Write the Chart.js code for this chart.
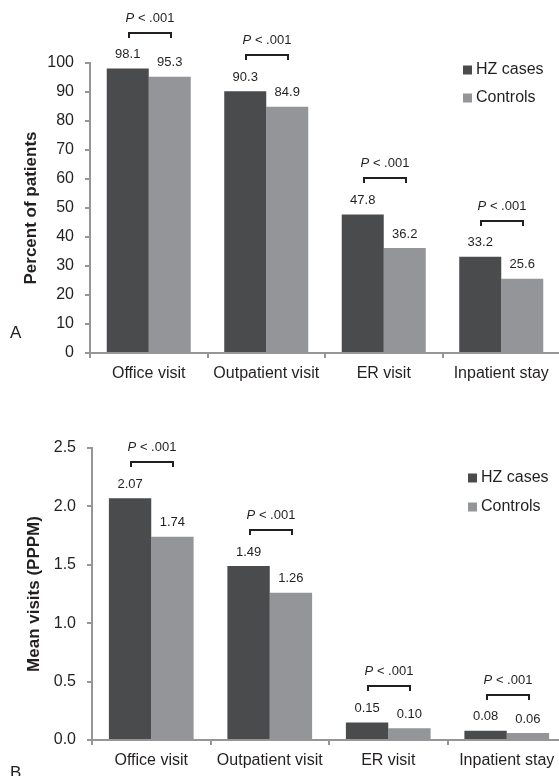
<!DOCTYPE html>
<html>
<head>
<meta charset="utf-8">
<script src="https://cdn.jsdelivr.net/npm/chart.js@4.4.1/dist/chart.umd.min.js"></script>
<style>
  html, body { margin: 0; padding: 0; background: #fff; overflow: hidden; width: 559px; height: 776px; }
  .panel { position: absolute; left: 0; width: 580px; }
  #wrapA { top: 0; height: 395px; }
  #wrapB { top: 395px; height: 381px; }
</style>
</head>
<body>
<div class="panel" id="wrapA"><canvas id="chartA"></canvas></div>
<div class="panel" id="wrapB"><canvas id="chartB"></canvas></div>
<script>
// data
const categories = ["Office visit", "Outpatient visit", "ER visit", "Inpatient stay"];
const seriesNames = ["HZ cases", "Controls"];
const percentHZ = [98.1, 90.3, 47.8, 33.2];
const percentControls = [95.3, 84.9, 36.2, 25.6];
const visitsHZ = [2.07, 1.49, 0.15, 0.08];
const visitsControls = [1.74, 1.26, 0.10, 0.06];
const pValueText = ["< .001", "< .001", "< .001", "< .001"];

const FONT = '"Liberation Sans", Arial, Helvetica, sans-serif';
const INK = '#231f20';
const AXIS = '#969696';
const DARK = '#4a4b4d';
const LIGHT = '#939598';

function drawP(ctx, cx, cy, rest) {
  ctx.font = 'italic 13px ' + FONT;
  const wP = ctx.measureText('P ').width;
  ctx.font = '13px ' + FONT;
  const wR = ctx.measureText(rest).width;
  let x = cx - (wP + wR) / 2;
  ctx.textAlign = 'left';
  ctx.font = 'italic 13px ' + FONT;
  ctx.fillText('P ', x, cy);
  ctx.font = '13px ' + FONT;
  ctx.fillText(rest, x + wP, cy);
}

// value labels, significance brackets, legend and panel letter
function annotations(opts) {
  return {
    id: 'annotations',
    afterDatasetsDraw(chart) {
      const ctx = chart.ctx;
      const dark = chart.getDatasetMeta(0).data;
      const light = chart.getDatasetMeta(1).data;
      ctx.save();
      ctx.fillStyle = INK;
      ctx.textBaseline = 'middle';

      ctx.textAlign = 'center';
      ctx.font = '13px ' + FONT;
      chart.data.datasets.forEach((ds, i) => {
        chart.getDatasetMeta(i).data.forEach((bar, j) => {
          ctx.fillText(ds.data[j].toFixed(opts.digits), bar.x, bar.y - 14);
        });
      });

      dark.forEach((bar, j) => {
        const x1 = Math.round(bar.x) + 1;
        const x2 = Math.round(light[j].x) + 1;
        const y = Math.round(bar.y - 36);
        ctx.strokeStyle = INK;
        ctx.lineWidth = 2;
        ctx.beginPath();
        ctx.moveTo(x1, y + 5);
        ctx.lineTo(x1, y);
        ctx.lineTo(x2, y);
        ctx.lineTo(x2, y + 5);
        ctx.stroke();
        drawP(ctx, (x1 + x2) / 2, y - 15, pValueText[j]);
      });

      ctx.font = '16px ' + FONT;
      ctx.textAlign = 'left';
      chart.data.datasets.forEach((ds, i) => {
        const y = opts.legendY + i * opts.legendGap;
        ctx.fillStyle = ds.backgroundColor;
        ctx.fillRect(opts.legendX, y - 4.5, 9, 9);
        ctx.fillStyle = INK;
        ctx.fillText(ds.label, opts.legendX + 13, y);
      });

      ctx.font = '17px ' + FONT;
      ctx.fillText(opts.letter, opts.letterX, opts.letterY);
      ctx.restore();
    }
  };
}

function makeChart(id, hz, ctrl, o) {
  return new Chart(document.getElementById(id), {
    type: 'bar',
    data: {
      labels: categories,
      datasets: [
        { label: seriesNames[0], data: hz, backgroundColor: DARK, borderWidth: 0 },
        { label: seriesNames[1], data: ctrl, backgroundColor: LIGHT, borderWidth: 0 }
      ]
    },
    options: {
      responsive: true,
      maintainAspectRatio: false,
      animation: false,
      layout: { padding: { top: o.padTop, right: o.padRight, left: 0, bottom: 0 } },
      datasets: { bar: { categoryPercentage: 0.715, barPercentage: 1.0 } },
      plugins: {
        legend: { display: false },
        tooltip: { enabled: false }
      },
      scales: {
        x: {
          grid: { display: true, offset: true, drawOnChartArea: false, drawTicks: true, tickLength: 5, color: AXIS, lineWidth: 2 },
          border: { display: true, color: AXIS, width: 2 },
          ticks: { color: INK, font: { family: FONT, size: 16 }, padding: 6, maxRotation: 0, autoSkip: false },
          afterFit(scale) { scale.height = o.xHeight; }
        },
        y: {
          min: 0,
          max: o.yMax,
          ticks: {
            stepSize: o.step,
            color: INK,
            font: { family: FONT, size: 16 },
            padding: 11,
            callback: v => v.toFixed(o.tickDigits)
          },
          grid: { drawOnChartArea: false, drawTicks: true, tickLength: 5, color: AXIS, lineWidth: 2 },
          border: { display: true, color: AXIS, width: 2 },
          title: {
            display: true,
            text: o.title,
            color: INK,
            font: { family: FONT, size: 17, weight: 'bold' },
            padding: { top: o.titlePad, bottom: 0 }
          },
          afterFit(scale) { scale.width = o.yWidth; }
        }
      }
    },
    plugins: [annotations(o)]
  });
}

makeChart('chartA', percentHZ, percentControls, {
  padTop: 63, padRight: 20, xHeight: 42, yWidth: 90, yMax: 100, step: 10, tickDigits: 0,
  digits: 1, title: 'Percent of patients', titlePad: 21,
  legendX: 463, legendY: 70, legendGap: 28, letter: 'A', letterX: 10, letterY: 333
});

makeChart('chartB', visitsHZ, visitsControls, {
  padTop: 53, padRight: 14, xHeight: 36, yWidth: 92, yMax: 2.5, step: 0.5, tickDigits: 1,
  digits: 2, title: 'Mean visits (PPPM)', titlePad: 24,
  legendX: 468, legendY: 83, legendGap: 29, letter: 'B', letterX: 10, letterY: 378
});
</script>
</body>
</html>
